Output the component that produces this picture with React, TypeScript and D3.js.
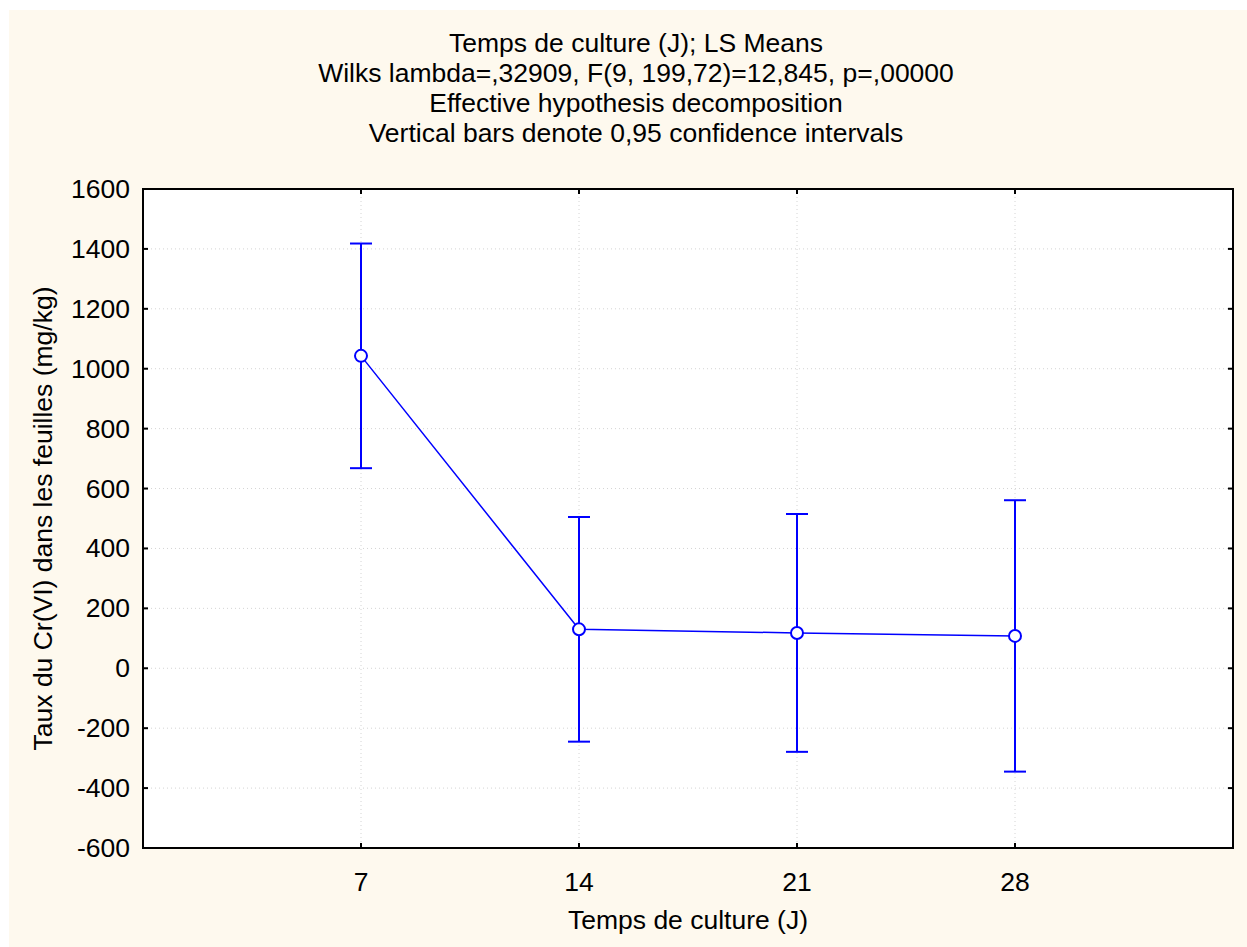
import React from "react";
import * as d3 from "d3";

// Culture time (days) and LS means of leaf Cr(VI), with 95% confidence limits
const days = [7, 14, 21, 28];
const means = [1043, 130, 118, 108];
const ciLower = [668, -245, -279, -345];
const ciUpper = [1418, 505, 515, 561];

const yTickValues = [-600, -400, -200, 0, 200, 400, 600, 800, 1000, 1200, 1400, 1600];
const xTickValues = [7, 14, 21, 28];

const titleLines = [
  "Temps de culture (J); LS Means",
  "Wilks lambda=,32909, F(9, 199,72)=12,845, p=,00000",
  "Effective hypothesis decomposition",
  "Vertical bars denote 0,95 confidence intervals",
];

const W = 1247;
const H = 947;
const plot = { left: 143, right: 1233, top: 189, bottom: 848 };
const FONT = "'Liberation Sans', Arial, sans-serif";
const FS = 26.5;
const BLUE = "#0000ff";

export default function App() {
  const x = d3.scaleLinear().domain([0, 35]).range([plot.left, plot.right]);
  const y = d3.scaleLinear().domain([-600, 1600]).range([plot.bottom, plot.top]);

  const line = d3
    .line<number>()
    .x((_, i) => x(days[i]))
    .y((d) => y(d));

  const tickLen = 5;
  const capHalf = 11;

  return (
    <svg
      width={W}
      height={H}
      style={{ position: "absolute", left: 0, top: 0, background: "#fff" }}
      fontFamily={FONT}
    >
      <rect x={9} y={10} width={W - 9} height={H - 10} fill="#fef9ee" />

      {/* titles */}
      {titleLines.map((t, i) => (
        <text
          key={i}
          x={636}
          y={43 + i * 30}
          textAnchor="middle"
          dominantBaseline="central"
          fontSize={FS}
          fill="#000"
        >
          {t}
        </text>
      ))}

      {/* plot area */}
      <rect
        x={plot.left}
        y={plot.top}
        width={plot.right - plot.left}
        height={plot.bottom - plot.top}
        fill="#fff"
      />

      {/* grid */}
      <g stroke="#d4d4d4" strokeWidth={1} strokeDasharray="1,3">
        {yTickValues
          .filter((v) => v !== -600 && v !== 1600)
          .map((v) => (
            <line key={"gy" + v} x1={plot.left} x2={plot.right} y1={y(v)} y2={y(v)} />
          ))}
        {xTickValues.map((v) => (
          <line key={"gx" + v} x1={x(v)} x2={x(v)} y1={plot.top} y2={plot.bottom} />
        ))}
      </g>

      {/* frame and ticks */}
      <rect
        x={plot.left}
        y={plot.top}
        width={plot.right - plot.left}
        height={plot.bottom - plot.top}
        fill="none"
        stroke="#000"
        strokeWidth={2}
      />
      <g stroke="#000" strokeWidth={2}>
        {yTickValues.map((v) => (
          <g key={"ty" + v}>
            <line x1={plot.left} x2={plot.left + tickLen} y1={y(v)} y2={y(v)} />
            <line x1={plot.right} x2={plot.right - tickLen} y1={y(v)} y2={y(v)} />
          </g>
        ))}
        {xTickValues.map((v) => (
          <g key={"tx" + v}>
            <line x1={x(v)} x2={x(v)} y1={plot.bottom} y2={plot.bottom - tickLen} />
            <line x1={x(v)} x2={x(v)} y1={plot.top} y2={plot.top + tickLen} />
          </g>
        ))}
      </g>

      {/* tick labels */}
      {yTickValues.map((v) => (
        <text
          key={"ly" + v}
          x={130}
          y={y(v)}
          textAnchor="end"
          dominantBaseline="central"
          fontSize={FS}
        >
          {v}
        </text>
      ))}
      {xTickValues.map((v) => (
        <text
          key={"lx" + v}
          x={x(v)}
          y={882}
          textAnchor="middle"
          dominantBaseline="central"
          fontSize={FS}
        >
          {v}
        </text>
      ))}

      {/* axis titles */}
      <text
        x={(plot.left + plot.right) / 2}
        y={920}
        textAnchor="middle"
        dominantBaseline="central"
        fontSize={FS}
      >
        Temps de culture (J)
      </text>
      <text
        transform={`translate(43,${(plot.top + plot.bottom) / 2}) rotate(-90)`}
        textAnchor="middle"
        dominantBaseline="central"
        fontSize={FS}
      >
        Taux du Cr(VI) dans les feuilles (mg/kg)
      </text>

      {/* error bars */}
      <g stroke={BLUE} strokeWidth={2}>
        {days.map((d, i) => (
          <g key={"e" + d}>
            <line x1={x(d)} x2={x(d)} y1={y(ciLower[i])} y2={y(ciUpper[i])} />
            <line x1={x(d) - capHalf} x2={x(d) + capHalf} y1={y(ciUpper[i])} y2={y(ciUpper[i])} />
            <line x1={x(d) - capHalf} x2={x(d) + capHalf} y1={y(ciLower[i])} y2={y(ciLower[i])} />
          </g>
        ))}
      </g>

      {/* means */}
      <path d={line(means) ?? ""} fill="none" stroke={BLUE} strokeWidth={1.5} />
      {days.map((d, i) => (
        <circle
          key={"p" + d}
          cx={x(d)}
          cy={y(means[i])}
          r={6}
          fill="#fff"
          stroke={BLUE}
          strokeWidth={2}
        />
      ))}
    </svg>
  );
}
